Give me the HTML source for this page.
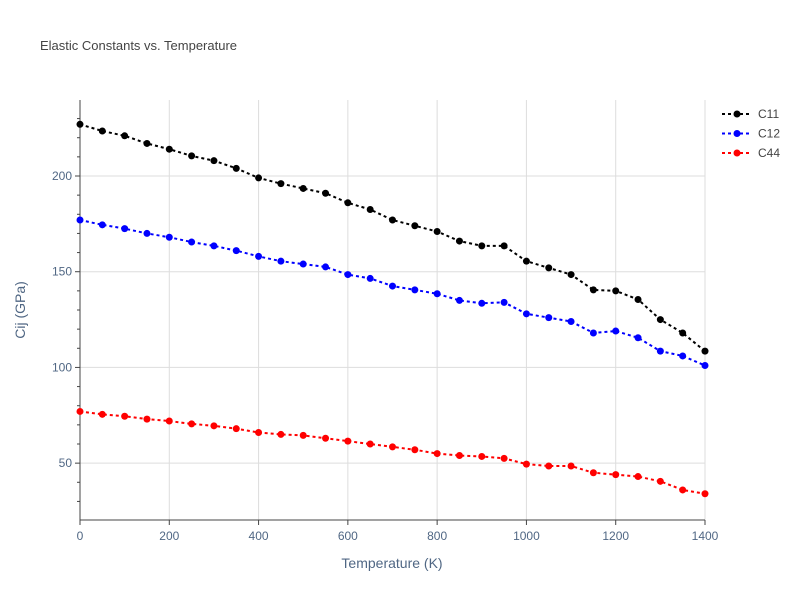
<!DOCTYPE html>
<html><head><meta charset="utf-8"><style>
body{margin:0;background:#fff;font-family:"Liberation Sans",sans-serif}
svg text{font-family:"Liberation Sans",sans-serif}
</style></head><body>
<svg id="c" width="800" height="600" xmlns="http://www.w3.org/2000/svg">
<text x="40" y="50" font-size="13" fill="#444">Elastic Constants vs. Temperature</text>
<g id="grid"></g><g id="axes"></g><g id="series"></g><g id="legend"></g>
<text x="392" y="568" font-size="14" fill="#506784" text-anchor="middle">Temperature (K)</text>
<text transform="translate(25,310) rotate(-90)" font-size="14" fill="#506784" text-anchor="middle">Cij (GPa)</text>
</svg>
<script>
const temps=[0,50,100,150,200,250,300,350,400,450,500,550,600,650,700,750,800,850,900,950,1000,1050,1100,1150,1200,1250,1300,1350,1400];
const c11=[227,223.5,221,217,214,210.5,208,204,199,196,193.5,191,186,182.5,177,174,171,166,163.5,163.5,155.5,152,148.5,140.5,140,135.5,125,118,108.5];
const c12=[177,174.5,172.5,170,168,165.5,163.5,161,158,155.5,154,152.5,148.5,146.5,142.5,140.5,138.5,135,133.5,134,128,126,124,118,119,115.5,108.5,106,101];
const c44=[77,75.5,74.5,73,72,70.5,69.5,68,66,65,64.5,63,61.5,60,58.5,57,55,54,53.5,52.5,49.5,48.5,48.5,45,44,43,40.5,36,34];
const seriesNames=['C11','C12','C44'];
const seriesColors=['#000','#00f','#f00'];
const xTicks=[0,200,400,600,800,1000,1200,1400];
const yTicks=[50,100,150,200];
const yMinor=[30,40,60,70,80,90,110,120,130,140,160,170,180,190,210,220,230];
const X=v=>80+v/1400*625;
const Y=v=>520-(v-20.3)/(239.7-20.3)*420;
const NS='http://www.w3.org/2000/svg';
function mk(p,t,a){const e=document.createElementNS(NS,t);for(const k in a)e.setAttribute(k,a[k]);p.appendChild(e);return e;}
const g=document.getElementById('grid'),ax=document.getElementById('axes'),s=document.getElementById('series'),lg=document.getElementById('legend');
xTicks.forEach(t=>{
 if(t>0){const l=mk(g,'line',{x1:X(t),x2:X(t),y1:100,y2:520,stroke:'#ddd'});
 
 }
 const tk=mk(ax,'line',{x1:X(t),x2:X(t),y1:520,y2:525,stroke:'#444'});
 
 
 const tx=mk(ax,'text',{x:X(t),y:540,'font-size':12,fill:'#506784','text-anchor':'middle'});tx.textContent=t;
 
 
});
yMinor.forEach(t=>{
 const tk=mk(ax,'line',{x1:77,x2:80,y1:Y(t),y2:Y(t),stroke:'#444'});
 
 
});
yTicks.forEach(t=>{
 const l=mk(g,'line',{x1:80,x2:705,y1:Y(t),y2:Y(t),stroke:'#ddd'});
 
 
 const tk=mk(ax,'line',{x1:75,x2:80,y1:Y(t),y2:Y(t),stroke:'#444'});
 
 
 const tx=mk(ax,'text',{x:72,y:Y(t)+4,'font-size':12,fill:'#506784','text-anchor':'end'});tx.textContent=t;
 
 
});
const xa=mk(ax,'line',{x1:80,x2:705,y1:520,y2:520,stroke:'#444'});


const ya=mk(ax,'line',{x1:80,x2:80,y1:100,y2:520,stroke:'#444'});


[c11,c12,c44].forEach((d,i)=>{
 const pg=mk(s,'g',{});
 
 
 const pl=mk(pg,'polyline',{points:d.map((v,j)=>X(temps[j])+','+Y(v)).join(' '),fill:'none',stroke:seriesColors[i],'stroke-width':2,'stroke-dasharray':'3,3'});
 
 
 d.forEach((v,j)=>{const c=mk(pg,'circle',{cx:X(temps[j]),cy:Y(v),r:3.5,fill:seriesColors[i]});
 
 });
 const y=114+i*19.5;
 const le=mk(lg,'g',{});
 
 
 mk(le,'line',{x1:722,x2:752,y1:y,y2:y,stroke:seriesColors[i],'stroke-width':2,'stroke-dasharray':'3,3'});
 mk(le,'circle',{cx:737,cy:y,r:3.5,fill:seriesColors[i]});
 const t=mk(le,'text',{x:758,y:y+4,'font-size':12,fill:'#444'});t.textContent=seriesNames[i];
});
</script>
</body></html>
